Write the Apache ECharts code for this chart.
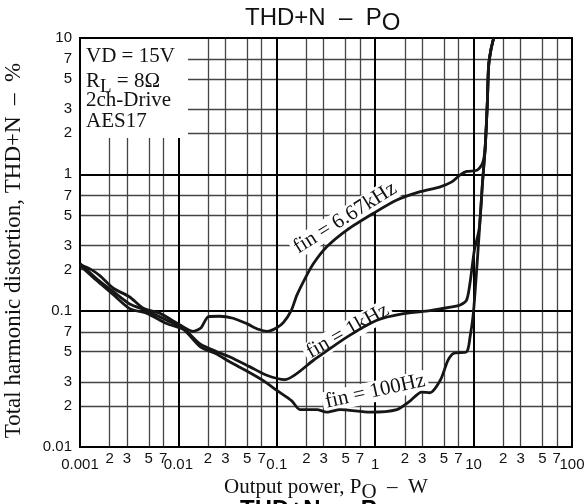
<!DOCTYPE html>
<html><head><meta charset="utf-8">
<script src="https://cdn.jsdelivr.net/npm/echarts@6/dist/echarts.min.js"></script>
<style>html,body{margin:0;padding:0;background:#fff}#c{width:587px;height:504px}</style>
</head><body><div id="c"></div>
<script>
// ---- data ----
const xMajorTicks = [0.001, 0.01, 0.1, 1, 10, 100];
const xMajorLabels = ['0.001', '0.01', '0.1', '1', '10', '100'];
const xMinorTicks = [0.002,0.003,0.005,0.007, 0.02,0.03,0.05,0.07, 0.2,0.3,0.5,0.7, 2,3,5,7, 20,30,50,70];
const xMinorLabels = ['2','3','5','7','2','3','5','7','2','3','5','7','2','3','5','7','2','3','5','7'];
const yMajorTicks = [0.01, 0.1, 1, 10];
const yMajorLabels = ['0.01', '0.1', '1', '10'];
const yMinorTicks = [0.02,0.03,0.05,0.07, 0.2,0.3,0.5,0.7, 2,3,5,7];
const yMinorLabels = ['2','3','5','7','2','3','5','7','2','3','5','7'];
const seriesNames = ['fin = 6.67kHz', 'fin = 1kHz', 'fin = 100Hz'];

const p667   = [0.001,0.0013,0.0016,0.00218,0.0032,0.0044,0.0065,0.0104,0.0142,0.017,0.0202,0.026,0.036,0.05,0.065,0.08,0.1,0.117,0.14,0.16,0.2,0.236,0.322,0.515,0.96,1.66,2.87,4.58,6,7.3,8.5,10.8,12.3,13.1,13.8,14.2,15,16];
const thd667 = [0.218,0.2,0.18,0.146,0.126,0.104,0.0955,0.0785,0.0705,0.075,0.0905,0.091,0.088,0.08,0.073,0.0705,0.075,0.082,0.1,0.13,0.18,0.222,0.294,0.39,0.518,0.648,0.746,0.81,0.88,0.99,1.05,1.07,1.2,1.55,3.4,6.2,8.2,10];

const p1k   = [0.001,0.0015,0.00218,0.0032,0.0048,0.0076,0.0113,0.0166,0.0245,0.0335,0.0535,0.079,0.121,0.236,0.515,1.04,1.94,3.6,5.8,7.3,8.5,9.2,10.2,11.4,12.3,13.1,13.8,14.2,15,16];
const thd1k = [0.222,0.17,0.138,0.112,0.1,0.085,0.074,0.057,0.05,0.0458,0.0387,0.0336,0.0312,0.0433,0.064,0.085,0.095,0.1,0.106,0.11,0.12,0.16,0.28,0.4,0.86,1.55,3.4,6.2,8.2,10];

const p100   = [0.001,0.0015,0.00218,0.0032,0.0048,0.0076,0.0113,0.0166,0.0245,0.0335,0.05,0.073,0.1,0.142,0.172,0.255,0.322,0.44,0.89,1.66,2.27,2.96,3.6,4.6,5.5,6.3,8.5,9.2,10,11.4,12.3,13.1,13.8,14.2,15,16];
const thd100 = [0.215,0.165,0.131,0.1035,0.0955,0.0805,0.0725,0.0545,0.048,0.042,0.036,0.0307,0.026,0.0218,0.0188,0.0188,0.018,0.0188,0.018,0.0188,0.0218,0.0253,0.025,0.031,0.0433,0.0487,0.05,0.064,0.1,0.37,0.86,1.55,3.4,6.2,8.2,10];

// ---- styling / layout ----
const serif = '"Liberation Serif","Times New Roman",serif';
const sans = '"Liberation Sans",Arial,Helvetica,sans-serif';
const ink = '#111';
const zip = (a, b) => a.map((v, i) => [v, b[i]]);
const lookup = (ticks, labels) => v => {
  let best = 0, bd = 1e9;
  ticks.forEach((t, i) => { const d = Math.abs(Math.log10(v) - Math.log10(t)); if (d < bd) { bd = d; best = i; } });
  return labels[best];
};
const curveLabelAnchors = [[0.495, 0.479], [0.525, 0.0707], [1.0, 0.0256]];
const curveLabelAngles = [32, 29.5, 12.5];

const chart = echarts.init(document.getElementById('c'));
const lineSeries = (name, px, py) => ({
  name, type: 'line', xAxisIndex: 0, yAxisIndex: 0, data: zip(px, py),
  showSymbol: false, smooth: 0.25, z: 10, silent: true,
  lineStyle: { color: '#161616', width: 2.8 }
});
const titleRich = (bold) => ({
  a: { fontFamily: sans, fontSize: 24, color: ink, fontWeight: bold ? 'bold' : 'normal' },
  s: { fontFamily: sans, fontSize: 24, color: ink, fontWeight: bold ? 'bold' : 'normal', padding: [10, 0, 0, 0] }
});

chart.setOption({
  animation: false,
  backgroundColor: '#fff',
  title: {
    text: '{a|THD+N  –  P}{s|O}', left: 245, top: 1, padding: 0,
    textStyle: { rich: titleRich(false) }
  },
  grid: { left: 80, top: 38, right: 15, bottom: 57, show: true, borderColor: '#000', borderWidth: 2,
    backgroundColor: 'transparent', containLabel: false, outerBoundsMode: 'none' },
  xAxis: [
    {
      type: 'log', logBase: 10, min: 0.001, max: 100, splitNumber: 5, z: 2, position: 'bottom',
      axisLine: { show: false }, axisTick: { show: false, customValues: xMajorTicks },
      splitLine: { show: true, lineStyle: { color: '#000', width: 2 } },
      axisLabel: { customValues: xMajorTicks, formatter: lookup(xMajorTicks, xMajorLabels), margin: 10, fontSize: 15, fontFamily: sans, color: ink },
      name: '{a|Output power, P}{s|O}{a|  –  W}', nameLocation: 'middle', nameGap: 21,
      nameTextStyle: { rich: {
        a: { fontFamily: serif, fontSize: 21, color: ink },
        s: { fontFamily: serif, fontSize: 21, color: ink, padding: [10, 0, 0, 0] } } }
    },
    {
      type: 'log', logBase: 10, min: 0.001, max: 100, splitNumber: 5, z: 1, position: 'bottom', offset: 0,
      axisLine: { show: false }, axisTick: { show: false, customValues: xMinorTicks },
      splitLine: { show: true, lineStyle: { color: '#444', width: 1.3 } },
      axisLabel: { customValues: xMinorTicks, formatter: lookup(xMinorTicks, xMinorLabels), margin: 4, fontSize: 15, fontFamily: sans, color: ink }
    }
  ],
  yAxis: [
    {
      type: 'log', logBase: 10, min: 0.01, max: 10, splitNumber: 3, z: 2, position: 'left',
      axisLine: { show: false }, axisTick: { show: false, customValues: yMajorTicks },
      splitLine: { show: true, lineStyle: { color: '#000', width: 2 } },
      axisLabel: { customValues: yMajorTicks, formatter: lookup(yMajorTicks, yMajorLabels), margin: 8, fontSize: 15, fontFamily: sans, color: ink },
      name: 'Total harmonic distortion, THD+N  –  %', nameLocation: 'middle', nameGap: 55, nameRotate: 90,
      nameTextStyle: { fontFamily: serif, fontSize: 23, color: ink, padding: [0, 16, 0, 0] }
    },
    {
      type: 'log', logBase: 10, min: 0.01, max: 10, splitNumber: 3, z: 1, position: 'left', offset: 0,
      axisLine: { show: false }, axisTick: { show: false, customValues: yMinorTicks },
      splitLine: { show: true, lineStyle: { color: '#444', width: 1.3 } },
      axisLabel: { customValues: yMinorTicks, formatter: lookup(yMinorTicks, yMinorLabels), margin: 8, fontSize: 15, fontFamily: sans, color: ink }
    }
  ],
  series: [
    lineSeries(seriesNames[0], p667, thd667),
    lineSeries(seriesNames[1], p1k, thd1k),
    lineSeries(seriesNames[2], p100, thd100)
  ]
});

// annotations
const g = [];
g.push({ type: 'rect', z: 5, shape: { x: 81, y: 39, width: 107, height: 99 }, style: { fill: '#fff' } });
const boxText = (txt, y, rich) => ({
  type: 'text', z: 6, x: 86, y,
  style: { text: txt, font: '21px ' + serif, fill: ink, align: 'left', verticalAlign: 'middle', textAlign: 'left', textVerticalAlign: 'middle', rich }
});
g.push(boxText('VD = 15V', 56));
g.push(boxText('{a|R}{s|L}{a| = 8Ω}', 81, {
  a: { fontFamily: serif, fontSize: 21, color: ink },
  s: { fontFamily: serif, fontSize: 19, color: ink, padding: [12, 0, 0, 0] }
}));
g.push(boxText('2ch-Drive', 100));
g.push(boxText('AES17', 121));
seriesNames.forEach((nm, i) => {
  const p = chart.convertToPixel({ xAxisIndex: 0, yAxisIndex: 0 }, curveLabelAnchors[i]);
  g.push({
    type: 'text', z: 6, x: p[0], y: p[1], rotation: curveLabelAngles[i] * Math.PI / 180,
    style: { text: nm, font: '21px ' + serif, fill: ink, align: 'center', verticalAlign: 'middle',
      textAlign: 'center', textVerticalAlign: 'middle', backgroundColor: '#fff', padding: [0, 3] }
  });
});
g.push({
  type: 'text', z: 6, x: 240, y: 510,
  style: { text: '{a|THD+N  –  P}{s|O}', rich: titleRich(true), align: 'left', verticalAlign: 'middle',
    textAlign: 'left', textVerticalAlign: 'middle' }
});
chart.setOption({ graphic: g });
</script>
</body></html>
